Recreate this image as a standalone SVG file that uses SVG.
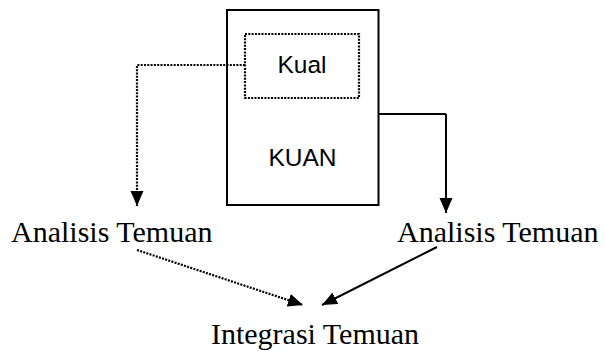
<svg xmlns="http://www.w3.org/2000/svg" width="605" height="351" viewBox="0 0 605 351">
<defs>
<style>
.serif{font-family:"Liberation Serif","Times New Roman",serif;font-size:30px;fill:#000}
.sans{font-family:"Liberation Sans",Arial,sans-serif;font-size:24.5px;fill:#000}
.box{fill:none;stroke:#000;stroke-width:2}
.dot{fill:none;stroke:#000;stroke-width:2.2;stroke-dasharray:2 1.3}
.solid{fill:none;stroke:#000;stroke-width:2}
</style>
<marker id="ah" markerUnits="userSpaceOnUse" markerWidth="16" markerHeight="14" refX="15" refY="6.5" orient="auto">
<path d="M0,0 L15,6.5 L0,13 z" fill="#000"/>
</marker>
</defs>
<g id="kuan">
<rect class="box" x="227" y="10" width="151.5" height="195"/>
<text class="sans" x="302.5" y="166" text-anchor="middle">KUAN</text>
</g>
<g id="kual">
<rect class="dot" x="245" y="34" width="114" height="64"/>
<text class="sans" x="302" y="73" text-anchor="middle">Kual</text>
</g>
<g id="analisis-kiri">
<text class="serif" x="11" y="242">Analisis Temuan</text>
</g>
<g id="analisis-kanan">
<text class="serif" x="397" y="242">Analisis Temuan</text>
</g>
<g id="integrasi">
<text class="serif" x="315" y="344" text-anchor="middle">Integrasi Temuan</text>
</g>
<g id="connectors">
<path class="dot" d="M245,65 H137 V206" marker-end="url(#ah)"/>
<path class="solid" d="M378,114 H446" stroke-width="1.5"/>
<path class="solid" d="M446,114 V213" marker-end="url(#ah)"/>
<path class="dot" d="M137,250 L303,305" marker-end="url(#ah)"/>
<path class="solid" d="M437,247 L322,305" marker-end="url(#ah)"/>
</g>
</svg>
